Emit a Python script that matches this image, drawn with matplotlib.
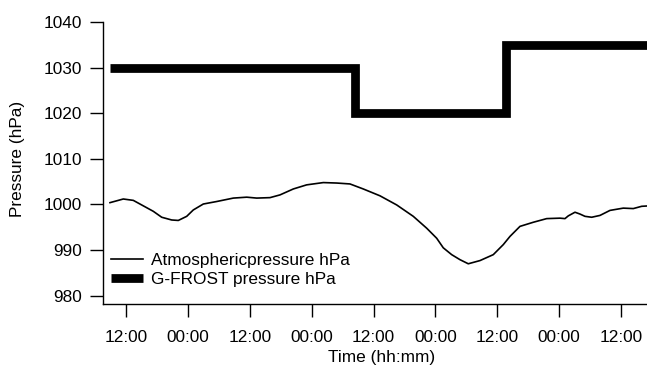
import matplotlib
matplotlib.use("Agg")
import matplotlib.pyplot as plt

# hours since 00:00 of the first day
atm_hours = [8.86, 11.44, 13.38, 15.32, 17.26, 18.89, 20.83, 22.11, 23.74, 25.02,
             26.96, 29.56, 32.78, 35.38, 37.32, 39.90, 41.84, 44.42, 47.01, 50.24,
             52.83, 55.41, 57.99, 61.23, 64.47, 67.69, 70.29, 72.23, 73.51, 75.14,
             76.75, 78.36, 80.63, 83.21, 85.15, 86.45, 88.39, 90.97, 93.57, 96.15,
             97.12, 97.76, 99.06, 100.03, 101.0, 102.30, 103.91, 105.85, 108.43,
             110.37, 112.0, 113.5]
atm_hpa = [1000.4, 1001.2, 1000.9, 999.7, 998.5, 997.2, 996.6, 996.5, 997.4, 998.8,
           1000.1, 1000.65, 1001.4, 1001.6, 1001.4, 1001.5, 1002.1, 1003.4, 1004.3, 1004.8,
           1004.7, 1004.5, 1003.4, 1001.9, 999.9, 997.4, 994.8, 992.6, 990.5, 989.0,
           987.9, 987.0, 987.7, 989.0, 991.2, 993.0, 995.2, 996.1, 996.9, 997.0,
           996.9, 997.5, 998.3, 997.9, 997.4, 997.2, 997.6, 998.7, 999.2,
           999.1, 999.6, 999.7]

gfrost_hours = [8.9, 56.33, 85.6, 114.0]
gfrost_hpa = [1030, 1020, 1035, 1035]

tick_hours = [12, 24, 36, 48, 60, 72, 84, 96, 108]
tick_labels = ["12:00", "00:00", "12:00", "00:00", "12:00", "00:00", "12:00", "00:00", "12:00"]

plt.rcParams['font.family'] = ['Liberation Sans', 'DejaVu Sans']
plt.rcParams['font.size'] = 12.4

fig = plt.figure(figsize=(6.47, 3.65), dpi=100)
ax = fig.add_axes([0.1587, 0.1671, 0.8413, 0.7726])

ax.plot(atm_hours, atm_hpa, color='black', lw=1.2, label='Atmosphericpressure hPa')
ax.step(gfrost_hours, gfrost_hpa, where='post', color='black', lw=6.3,
        solid_joinstyle='miter', solid_capstyle='butt', label='G-FROST pressure hPa')

ax.set_xlim(7.44, 113.03)
ax.set_ylim(978.18, 1040)
ax.set_yticks([980, 990, 1000, 1010, 1020, 1030, 1040])
ax.set_xticks(tick_hours)
ax.set_xticklabels(tick_labels)

for s in ['top', 'right']:
    ax.spines[s].set_visible(False)
for s in ['left', 'bottom']:
    ax.spines[s].set_linewidth(1.0)
ax.tick_params(axis='both', direction='out', length=9.3, width=1.0, labelsize=12.4)
ax.tick_params(axis='y', pad=5.5)
ax.tick_params(axis='x', pad=9.5)

ax.set_ylabel('Pressure (hPa)')
ax.yaxis.set_label_coords(-0.143, 0.516)
ax.set_xlabel('Time (hh:mm)')
ax.xaxis.set_label_coords(0.512, -0.162)

ax.legend(loc='lower left', bbox_to_anchor=(0.0147, 0.06), frameon=False,
          borderpad=0, borderaxespad=0, handlelength=1.86, handletextpad=0.47,
          labelspacing=0.26, fontsize=12.4)

fig.savefig('out.png', dpi=100)
